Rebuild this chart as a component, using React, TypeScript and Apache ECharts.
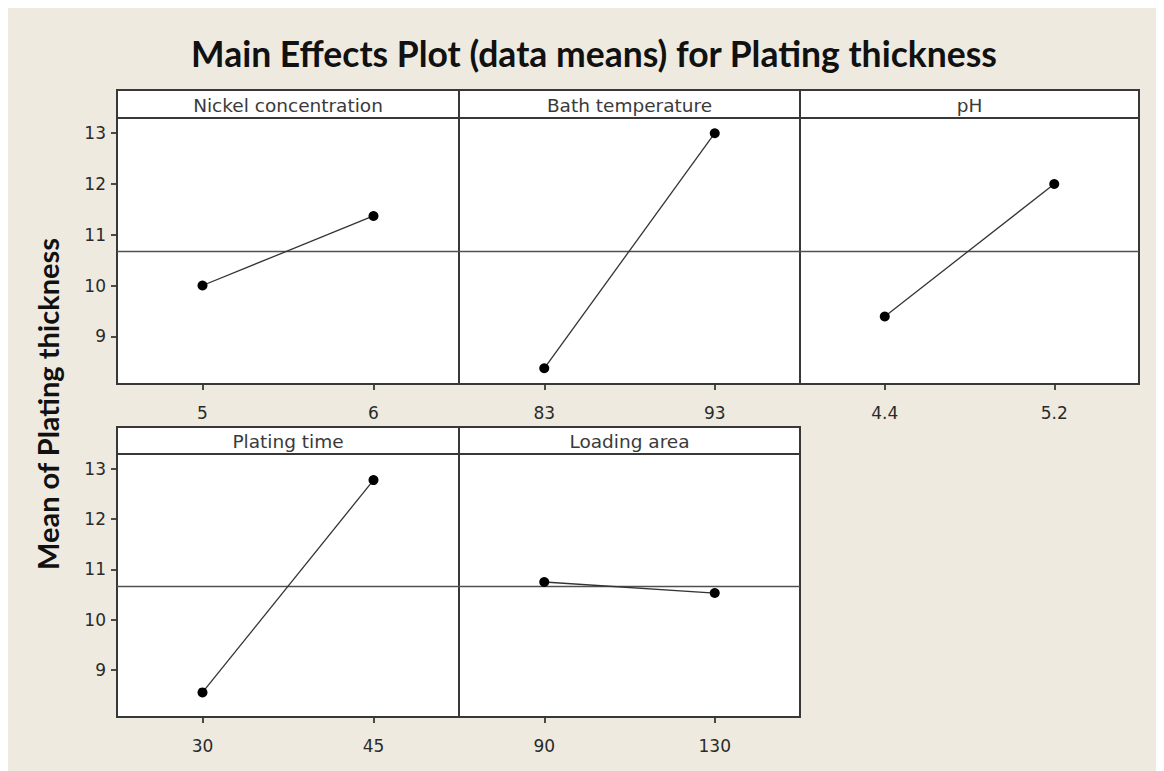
import React, { useEffect, useRef } from "react";
import * as echarts from "echarts";

// ---- data ----
const factors = ["Nickel concentration", "Bath temperature", "pH", "Plating time", "Loading area"];
const levelLabels = [
  ["5", "6"],
  ["83", "93"],
  ["4.4", "5.2"],
  ["30", "45"],
  ["90", "130"],
];
const levelMeans = [
  [10.0, 11.37],
  [8.37, 13.0],
  [9.39, 12.0],
  [8.55, 12.78],
  [10.75, 10.53],
];
const yTicks = [9, 10, 11, 12, 13];
const titleText = "Main Effects Plot (data means) for Plating thickness";
const yAxisTitle = "Mean of Plating thickness";

const allVals = levelMeans.flat();
const grandMean = allVals.reduce((a, b) => a + b, 0) / allVals.length;

// ---- layout (page px) ----
const OFF = 8;
const CW = 1156;
const CH = 763;
const colX = [117, 459, 800, 1139];
const rowTop = [118, 454];
const rowBottom = [384, 717];
const stripTop = [90, 427];
const Y_MIN = 8.06;
const Y_MAX = 13.3;

const FRAME = "#383838";
const TXT = "#2a2a2a";

export default function App() {
  const ref = useRef<HTMLDivElement>(null);
  useEffect(() => {
    if (!ref.current) return;
    const chart = echarts.init(ref.current, null, { renderer: "svg" });
    const grids: any[] = [];
    const xAxes: any[] = [];
    const yAxes: any[] = [];
    const series: any[] = [];
    const graphics: any[] = [];

    factors.forEach((f, i) => {
      const row = i < 3 ? 0 : 1;
      const col = i % 3;
      const left = colX[col] - OFF;
      const width = colX[col + 1] - colX[col];
      const top = rowTop[row] - OFF;
      const height = rowBottom[row] - rowTop[row];
      grids.push({
        left,
        top,
        width,
        height,
        show: true,
        backgroundColor: "#ffffff",
        borderColor: FRAME,
        borderWidth: 2,
        containLabel: false,
      });
      xAxes.push({
        type: "category",
        gridIndex: i,
        data: levelLabels[i],
        boundaryGap: true,
        axisLine: { show: false },
        axisTick: { show: true, alignWithLabel: true, length: 6, lineStyle: { color: FRAME, width: 1.8 } },
        axisLabel: { show: true, margin: 20, color: TXT, fontSize: 17, fontFamily: "DejaVu Sans" },
        splitLine: { show: false },
      });
      const firstCol = col === 0;
      yAxes.push({
        type: "value",
        gridIndex: i,
        min: Y_MIN,
        max: Y_MAX,
        axisLine: { show: false },
        splitLine: { show: false },
        axisTick: {
          show: firstCol,
          length: 6,
          customValues: yTicks,
          lineStyle: { color: FRAME, width: 1.8 },
        },
        axisLabel: {
          show: firstCol,
          customValues: yTicks,
          margin: 11,
          color: TXT,
          fontSize: 17,
          fontFamily: "DejaVu Sans",
        },
      });
      series.push({
        type: "line",
        xAxisIndex: i,
        yAxisIndex: i,
        data: levelMeans[i],
        symbol: "circle",
        symbolSize: 10,
        itemStyle: { color: "#000000" },
        lineStyle: { color: "#333333", width: 1.3 },
        z: 5,
        markLine: {
          silent: true,
          symbol: ["none", "none"],
          label: { show: false },
          lineStyle: { color: "#505050", width: 1.4, type: "solid" },
          data: [{ yAxis: grandMean }],
          z: 3,
        },
      });
      // strip header
      const sTop = stripTop[row] - OFF;
      const sH = rowTop[row] - stripTop[row];
      graphics.push({
        type: "rect",
        shape: { x: left, y: sTop, width, height: sH },
        style: { fill: "#ffffff", stroke: FRAME, lineWidth: 2 },
        z: 10,
      });
      graphics.push({
        type: "text",
        x: left + width / 2,
        y: sTop + sH / 2 + 1,
        style: {
          text: f,
          fill: "#3a3a3a",
          font: "18.5px 'DejaVu Sans'",
          textAlign: "center",
          textVerticalAlign: "middle",
        },
        z: 11,
      });
    });

    graphics.push({
      type: "text",
      x: 594 - OFF,
      y: 53 - OFF,
      style: {
        text: titleText,
        fill: "#111111",
        font: "bold 35.5px Lato",
        textAlign: "center",
        textVerticalAlign: "middle",
      },
      z: 11,
    });
    graphics.push({
      type: "text",
      x: 47 - OFF,
      y: 404 - OFF,
      rotation: Math.PI / 2,
      style: {
        text: yAxisTitle,
        fill: "#111111",
        font: "bold 29px Lato",
        textAlign: "center",
        textVerticalAlign: "middle",
      },
      z: 11,
    });

    chart.setOption({
      animation: false,
      backgroundColor: "#EEEAE0",
      grid: grids,
      xAxis: xAxes,
      yAxis: yAxes,
      series,
      graphic: graphics,
    });
    return () => chart.dispose();
  }, []);
  return <div ref={ref} style={{ width: CW, height: CH }} />;
}
